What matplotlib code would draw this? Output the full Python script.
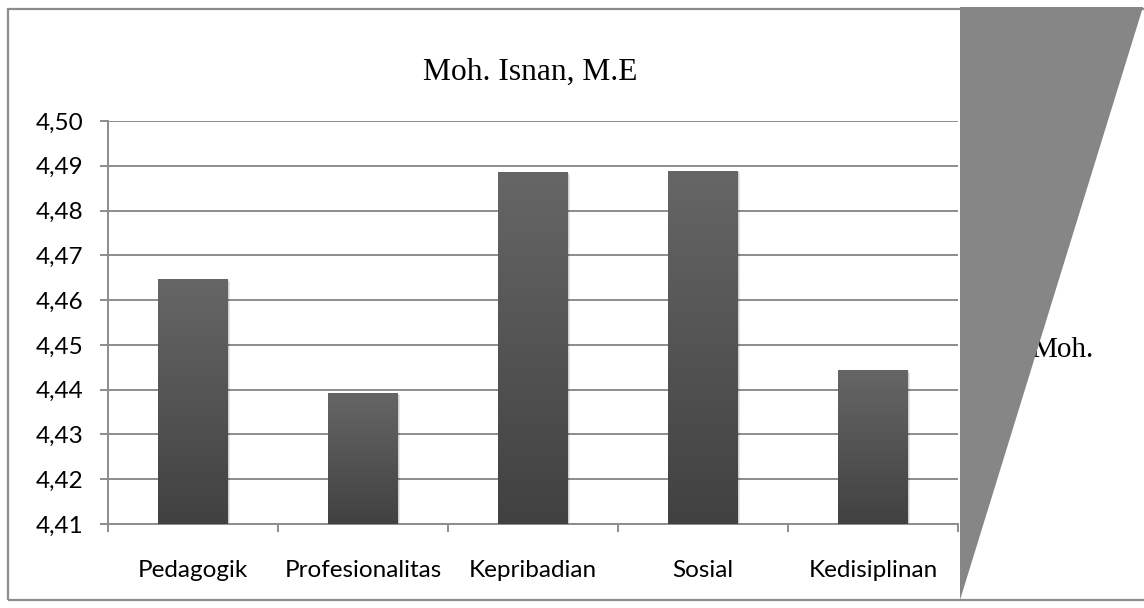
import numpy as np
import matplotlib
matplotlib.use("Agg")
import matplotlib.pyplot as plt
from matplotlib.patches import Rectangle, Polygon
from matplotlib.ticker import FuncFormatter, MultipleLocator

# data
categories = ["Pedagogik", "Profesionalitas", "Kepribadian", "Sosial", "Kedisiplinan"]
scores = [4.4647, 4.4393, 4.4886, 4.4889, 4.4444]
title = "Moh. Isnan, M.E"
legend_label = "Moh."

W, H = 1144, 608
fig = plt.figure(figsize=(W / 100, H / 100), dpi=100)

# axes placed by pixel box
x0, x1, y0, y1 = 108, 958, 121, 524
ax = fig.add_axes([x0 / W, 1 - y1 / H, (x1 - x0) / W, (y1 - y0) / H])

grid_col = "#8c8c8c"
ax.set_ylim(4.41, 4.50)
ax.set_xlim(-0.5, len(categories) - 0.5)
ax.yaxis.set_major_locator(MultipleLocator(0.01))
ax.yaxis.set_major_formatter(FuncFormatter(lambda v, p: f"{v:.2f}".replace(".", ",")))
ax.grid(axis="y", color=grid_col, lw=1.4)
ax.set_axisbelow(True)

for s in ["top", "right"]:
    ax.spines[s].set_visible(False)
for s in ["left", "bottom"]:
    ax.spines[s].set_color(grid_col)
    ax.spines[s].set_linewidth(1.4)

# category labels centred, tick marks on boundaries
ax.set_xticks(range(len(categories)))
ax.set_xticklabels(categories, fontfamily="Lato", fontsize=17.5)
ax.tick_params(axis="x", length=0, pad=26)
ax.set_xticks(np.arange(-0.5, len(categories), 1.0), minor=True)
ax.tick_params(axis="x", which="minor", length=6, width=1.4, color=grid_col)
ax.tick_params(axis="y", length=6, width=1.4, color=grid_col, labelsize=17.5, pad=12)
for lab in ax.get_yticklabels():
    lab.set_fontfamily("Lato")

# bars with vertical gradient and a soft shadow
bw = 0.41
grad = np.linspace(0, 1, 256).reshape(-1, 1)
cmap = matplotlib.colors.LinearSegmentedColormap.from_list("g", ["#414141", "#666666"])
for i, v in enumerate(scores):
    for k, a in enumerate([0.10, 0.06, 0.03]):
        off = 0.005 * (k + 1)
        ax.add_patch(Rectangle((i - bw / 2 + off, 4.41), bw, v - 4.41 - 0.0002 * (k + 1),
                               facecolor="#000000", alpha=a, lw=0, zorder=2))
    bar = Rectangle((i - bw / 2, 4.41), bw, v - 4.41, facecolor="none", lw=0, zorder=3)
    ax.add_patch(bar)
    im = ax.imshow(grad, cmap=cmap, origin="lower", aspect="auto",
                   extent=[i - bw / 2, i + bw / 2, 4.41, v], zorder=3)
    im.set_clip_path(bar)
ax.set_xlim(-0.5, len(categories) - 0.5)
ax.set_ylim(4.41, 4.50)

# title and cut legend text
fig.text(530 / W, 1 - 72 / H, title, fontfamily="Liberation Serif", fontsize=22.7,
         ha="center", va="center")
fig.text(1031 / W, 1 - 350 / H, legend_label, fontfamily="Liberation Serif", fontsize=21,
         ha="left", va="center")

# outer chart border
fig.patches.append(Rectangle((8 / W, 1 - 600 / H), (1160 - 8) / W, (600 - 9) / H,
                             transform=fig.transFigure, facecolor="none",
                             edgecolor="#8c8c8c", lw=1.6, zorder=5))

# grey wedge on the right
wedge = [(960, 7), (1143, 7), (960, 600)]
fig.patches.append(Polygon([(px / W, 1 - py / H) for px, py in wedge],
                           closed=True, transform=fig.transFigure,
                           facecolor="#868686", edgecolor="none", zorder=6))

fig.savefig("out.png", dpi=100, facecolor="white")
